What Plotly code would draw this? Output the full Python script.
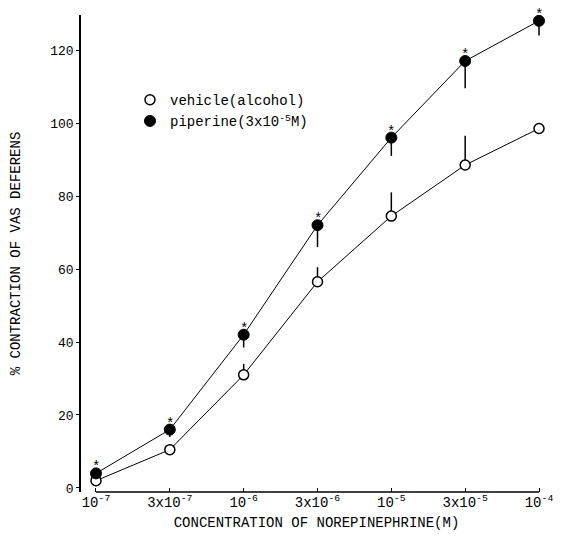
import plotly.graph_objects as go

# concentrations (categorical, evenly spaced)
conc_labels = ["10<sup>-7</sup>", "3x10<sup>-7</sup>", "10<sup>-6</sup>", "3x10<sup>-6</sup>",
               "10<sup>-5</sup>", "3x10<sup>-5</sup>", "10<sup>-4</sup>"]
conc_pos = [0, 1, 2, 3, 4, 5, 6]

vehicle = [2, 10.5, 31, 56.5, 74.5, 88.5, 98.5]
vehicle_err = [0.5, 1.5, 3, 4, 6.5, 8, 1]

piperine = [4, 16, 42, 72, 96, 117, 128]
piperine_err = [1.5, 2, 3.5, 6, 5, 7.5, 4]
signif = ["*", "*", "*", "*", "*", "*", "*"]

FONT = "Liberation Mono"

fig = go.Figure()

# connecting lines
fig.add_trace(go.Scatter(x=conc_pos, y=vehicle, mode="lines",
                         line=dict(color="black", width=1), showlegend=False, hoverinfo="skip"))
fig.add_trace(go.Scatter(x=conc_pos, y=piperine, mode="lines",
                         line=dict(color="black", width=1), showlegend=False, hoverinfo="skip"))

# vehicle markers, SEM upward
fig.add_trace(go.Scatter(
    x=conc_pos, y=vehicle, mode="markers", name="vehicle(alcohol)",
    marker=dict(symbol="circle", size=10, color="white", line=dict(color="black", width=1.5)),
    error_y=dict(type="data", symmetric=False, array=vehicle_err, arrayminus=[0]*7,
                 width=0, thickness=1.5, color="black"),
))

# piperine markers, SEM downward
fig.add_trace(go.Scatter(
    x=conc_pos, y=piperine, mode="markers", name="piperine(3x10<sup>-5</sup>M)",
    marker=dict(symbol="circle", size=11, color="black", line=dict(color="black", width=1)),
    error_y=dict(type="data", symmetric=False, array=[0]*7, arrayminus=piperine_err,
                 width=0, thickness=1.5, color="black"),
))

# significance asterisks above piperine points
for xi, yi, s in zip(conc_pos, piperine, signif):
    fig.add_annotation(x=xi, y=yi, xref="x", yref="y", text=s, showarrow=False,
                       yshift=6, borderpad=0, font=dict(family=FONT, size=14, color="black"))

# x axis baseline from first to last concentration
fig.add_shape(type="line", xref="x", yref="paper", x0=conc_pos[0], x1=conc_pos[-1], y0=0, y1=0,
              line=dict(color="black", width=1.5))

fig.update_layout(
    width=554, height=539,
    margin=dict(l=73, r=10, t=7, b=55),
    paper_bgcolor="white", plot_bgcolor="white",
    font=dict(family=FONT, color="black", size=13),
    legend=dict(x=0.104, y=0.855, xanchor="left", yanchor="top",
                font=dict(family=FONT, size=14, color="black"),
                bgcolor="rgba(0,0,0,0)", tracegroupgap=0),
    xaxis=dict(range=[-0.203, 6.176], tickvals=conc_pos, ticktext=conc_labels,
               automargin=False,
               showgrid=False, zeroline=False, showline=False,
               ticks="inside", ticklen=4, tickcolor="black", tickwidth=1,
               tickfont=dict(family=FONT, size=14),
               title=dict(text="CONCENTRATION OF NOREPINEPHRINE(M)", standoff=7,
                          font=dict(family=FONT, size=14))),
    yaxis=dict(range=[-1.1, 129.6], tickvals=[0, 20, 40, 60, 80, 100, 120],
               automargin=False,
               showgrid=False, zeroline=False, showline=True, linecolor="black", linewidth=1.5,
               ticks="outside", ticklen=3, tickcolor="black",
               tickfont=dict(family=FONT, size=13),
               title=dict(text="% CONTRACTION OF VAS DEFERENS", standoff=27,
                          font=dict(family=FONT, size=14))),
)

fig.write_html("out.html")
